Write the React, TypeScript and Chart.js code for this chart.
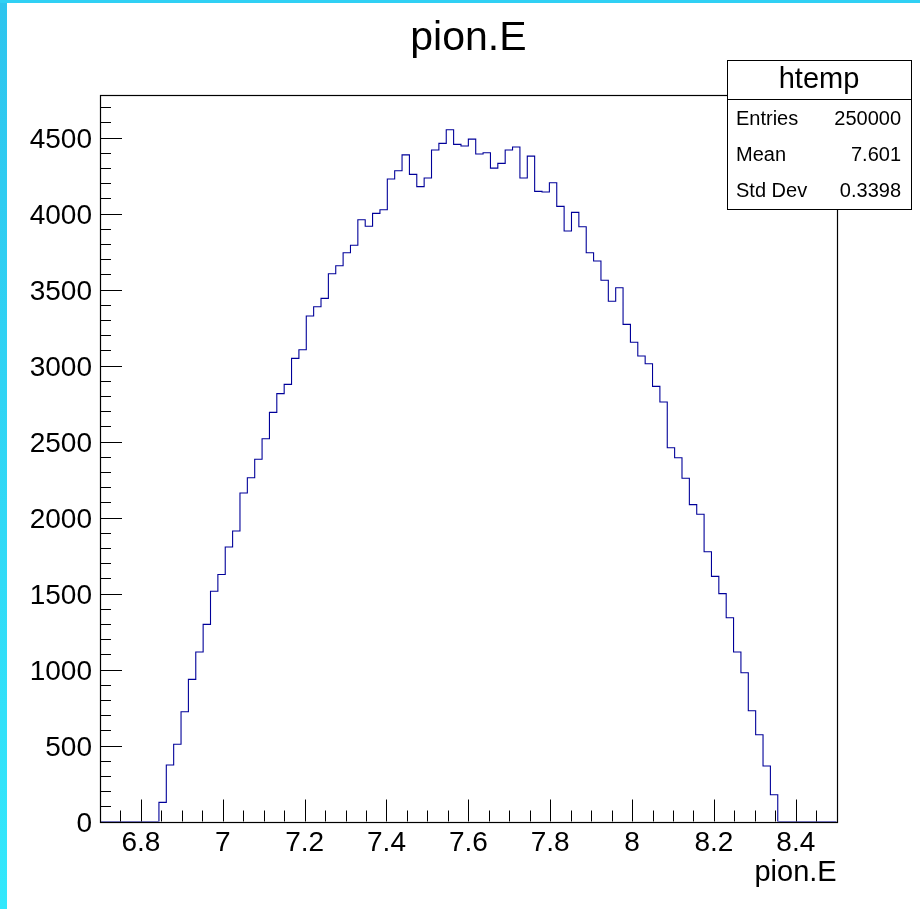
import React, { useEffect, useRef } from 'react';
import { Chart, registerables } from 'chart.js';

Chart.register(...registerables);

// ---- data ----
const X_MIN = 6.7;
const X_MAX = 8.5;
const Y_MAX = 4780;
const N_BINS = 100;

const counts: number[] = [
  0, 0, 0, 0, 0, 0, 0, 0,
  126, 372, 508, 722, 935, 1115, 1297, 1515, 1625, 1806, 1911, 2161, 2262, 2383, 2518, 2692, 2815, 2876, 3047, 3104,
  3326, 3387, 3442, 3604, 3657, 3742, 3791, 3959, 3916, 4001, 4025, 4227, 4282, 4386, 4258, 4177,
  4234, 4418, 4462, 4551, 4455, 4444, 4490, 4392, 4400, 4299, 4330, 4418, 4438,
  4234, 4378, 4146, 4142, 4203, 4047, 3885, 4008, 3913, 3742, 3688, 3561, 3423, 3512,
  3271, 3153, 3063, 3012, 2863, 2760, 2459, 2393, 2258, 2085, 2022, 1775, 1613, 1499, 1341, 1115, 979, 729, 571, 365, 176,
  0, 0, 0, 0, 0, 0, 0, 0,
];

const xTickValues = [6.8, 7, 7.2, 7.4, 7.6, 7.8, 8, 8.2, 8.4];
const yTickValues = [0, 500, 1000, 1500, 2000, 2500, 3000, 3500, 4000, 4500];
const X_MINOR_STEP = 0.05;
const Y_MINOR_STEP = 100;

const chartTitle = 'pion.E';
const xAxisTitle = 'pion.E';
const statsTitle = 'htemp';
const statsLabels = ['Entries', 'Mean', 'Std Dev'];
const statsValues = ['250000', '7.601', '0.3398'];

const FONT = '"Liberation Sans", Arial, Helvetica, sans-serif';

export default function App() {
  const ref = useRef<HTMLCanvasElement | null>(null);

  useEffect(() => {
    const canvas = ref.current;
    if (!canvas) return;
    const binWidth = (X_MAX - X_MIN) / N_BINS;
    const points = counts.map((c, i) => ({ x: X_MIN + i * binWidth, y: c }));
    points.push({ x: X_MAX, y: 0 });

    const rootPlugin = {
      id: 'rootStyle',
      beforeDraw(chart: any) {
        const { ctx, width, height } = chart;
        ctx.save();
        ctx.fillStyle = '#ffffff';
        ctx.fillRect(0, 0, width, height);
        const g = ctx.createLinearGradient(0, 0, 0, height);
        g.addColorStop(0, '#2ec4ee');
        g.addColorStop(1, '#33e8fc');
        ctx.fillStyle = g;
        ctx.fillRect(0, 0, 7, height);
        ctx.fillStyle = '#30d0f4';
        ctx.fillRect(0, 0, width, 3);
        ctx.restore();
      },
      afterDatasetsDraw(chart: any) {
        const { ctx, chartArea } = chart;
        const xs = chart.scales.x;
        const ys = chart.scales.y;
        const { left, right, top, bottom } = chartArea;
        ctx.save();
        ctx.strokeStyle = '#000000';
        ctx.lineWidth = 1;
        ctx.beginPath();
        // x ticks (inside)
        for (let v = 6.75; v <= 8.4501; v += X_MINOR_STEP) {
          const r = Math.round(v * 100) / 100;
          const major = xTickValues.some((t) => Math.abs(t - r) < 1e-6);
          const px = Math.round(xs.getPixelForValue(r)) + 0.5;
          const len = major ? 22 : 11;
          ctx.moveTo(px, bottom);
          ctx.lineTo(px, bottom - len);
        }
        // y ticks (inside)
        for (let v = 0; v <= Y_MAX; v += Y_MINOR_STEP) {
          const major = v % 500 === 0;
          const py = Math.round(ys.getPixelForValue(v)) + 0.5;
          const len = major ? 22 : 11;
          ctx.moveTo(left, py);
          ctx.lineTo(left + len, py);
        }
        ctx.stroke();
        ctx.lineWidth = 1.2;
        ctx.strokeRect(Math.round(left) + 0.5, Math.round(top) + 0.5, Math.round(right - left), Math.round(bottom - top));
        ctx.restore();
      },
      afterDraw(chart: any) {
        const { ctx } = chart;
        const x0 = 727, y0 = 60, x1 = 911, y1 = 209, yd = 99;
        ctx.save();
        ctx.fillStyle = '#ffffff';
        ctx.fillRect(x0, y0, x1 - x0, y1 - y0);
        ctx.strokeStyle = '#000000';
        ctx.lineWidth = 1;
        ctx.strokeRect(x0 + 0.5, y0 + 0.5, x1 - x0, y1 - y0);
        ctx.beginPath();
        ctx.moveTo(x0, yd + 0.5);
        ctx.lineTo(x1, yd + 0.5);
        ctx.stroke();
        ctx.fillStyle = '#000000';
        ctx.textBaseline = 'middle';
        ctx.textAlign = 'center';
        ctx.font = `29px ${FONT}`;
        ctx.fillText(statsTitle, (x0 + x1) / 2, 80);
        ctx.font = `20px ${FONT}`;
        const rowY = [119, 155, 191];
        statsLabels.forEach((lab, i) => {
          ctx.textAlign = 'left';
          ctx.fillText(lab, 736, rowY[i]);
          ctx.textAlign = 'right';
          ctx.fillText(statsValues[i], 901, rowY[i]);
        });
        ctx.restore();
      },
    };

    const chart = new Chart(canvas, {
      type: 'line',
      data: {
        datasets: [
          {
            label: 'pion.E',
            data: points,
            stepped: 'before',
            borderColor: '#000099',
            borderWidth: 1.1,
            pointRadius: 0,
            fill: false,
            tension: 0,
          },
        ],
      },
      options: {
        animation: false,
        responsive: false,
        devicePixelRatio: 1,
        layout: { padding: { left: 0, right: 83.3, top: 0, bottom: 0 } },
        plugins: {
          legend: { display: false },
          tooltip: { enabled: false },
          title: {
            display: true,
            fullSize: false,
            text: chartTitle,
            color: '#000000',
            font: { family: FONT, size: 41, weight: 'normal', lineHeight: 1.2 },
            padding: { top: 14, bottom: 31.8 },
          },
        },
        scales: {
          x: {
            type: 'linear',
            min: X_MIN,
            max: X_MAX,
            grid: { display: false, drawTicks: false },
            border: { display: false },
            afterBuildTicks: (scale: any) => {
              scale.ticks = xTickValues.map((v) => ({ value: v }));
            },
            afterFit: (scale: any) => {
              scale.height = 87.5;
            },
            ticks: {
              color: '#000000',
              font: { family: FONT, size: 28 },
              padding: 5,
              maxRotation: 0,
              autoSkip: false,
              callback: (v: any) => String(Math.round(Number(v) * 10) / 10),
            },
            title: {
              display: true,
              text: xAxisTitle,
              align: 'end',
              color: '#000000',
              font: { family: FONT, size: 29 },
              padding: { top: 0, bottom: 18.6 },
            },
          },
          y: {
            type: 'linear',
            min: 0,
            max: Y_MAX,
            grid: { display: false, drawTicks: false },
            border: { display: false },
            afterBuildTicks: (scale: any) => {
              scale.ticks = yTickValues.map((v) => ({ value: v }));
            },
            afterFit: (scale: any) => {
              scale.width = 100;
            },
            ticks: {
              color: '#000000',
              font: { family: FONT, size: 28 },
              padding: 8,
              labelOffset: 3,
              autoSkip: false,
              callback: (v: any) => String(v),
            },
          },
        },
      },
      plugins: [rootPlugin],
    } as any);

    return () => chart.destroy();
  }, []);

  return (
    <div style={{ position: 'fixed', left: 0, top: 0, width: 920, height: 909, background: '#ffffff' }}>
      <canvas ref={ref} width={920} height={909} style={{ display: 'block', width: 920, height: 909 }} />
    </div>
  );
}
